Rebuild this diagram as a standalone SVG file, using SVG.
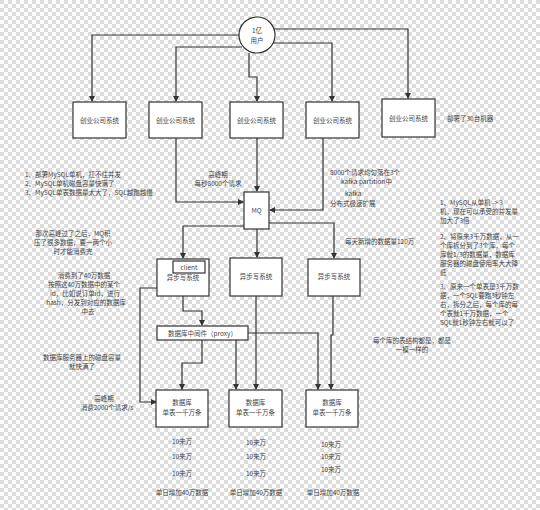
<svg xmlns="http://www.w3.org/2000/svg" width="540" height="510" viewBox="0 0 540 510">
<defs>
<pattern id="chk" width="8" height="8" patternUnits="userSpaceOnUse">
<rect width="8" height="8" fill="#ffffff"/>
<rect width="4" height="4" fill="#dcdcdc"/>
<rect x="4" y="4" width="4" height="4" fill="#dcdcdc"/>
</pattern>
<marker id="ar" markerWidth="6" markerHeight="6" refX="5" refY="3" orient="auto" markerUnits="userSpaceOnUse">
<path d="M0,0 L6,3 L0,6 Z" fill="#333"/>
</marker>
<style>
.bx{fill:#fff;stroke:#333;stroke-width:1.2}
.ln{fill:none;stroke:#333;stroke-width:1.2}
.ar{marker-end:url(#ar)}
text{font-family:"Noto Sans CJK SC","Noto Sans",sans-serif;font-size:6.5px;fill:#444}
.c{text-anchor:middle}
</style>
</defs>
<rect width="540" height="510" fill="url(#chk)"/>

<g id="connectors">
<path class="ln ar" d="M240,35 H92 V101"/>
<path class="ln ar" d="M242,47 H176 V101"/>
<path class="ln ar" d="M249,53 V77 H257 V101"/>
<path class="ln ar" d="M273,43 H332 V101"/>
<path class="ln ar" d="M274,29 H408 V98"/>
<path class="ln ar" d="M176,138 V202 H243"/>
<path class="ln ar" d="M257,138 V191"/>
<path class="ln ar" d="M323,138 V210 H270"/>
<path class="ln ar" d="M244,226 H183 V258"/>
<path class="ln ar" d="M257,229 V257"/>
<path class="ln ar" d="M269,223 H334 V258"/>
<path class="ln ar" d="M183,296 V311 H202 V325"/>
<path class="ln ar" d="M188,273 V288 H140 V402 H156"/>
<path class="ln ar" d="M202,340 V363 H182 V389"/>
<path class="ln ar" d="M236,340 V389"/>
<path class="ln ar" d="M256,296 V389"/>
<path class="ln ar" d="M248,333 H318 V389"/>
<path class="ln ar" d="M333,296 V335 H331 V389"/>
</g>

<g id="user">
<circle cx="257" cy="35" r="18" fill="#fff" stroke="#333" stroke-width="1.2"/>
<text class="c" x="257" y="33">1亿</text>
<text class="c" x="257" y="43">用户</text>
</g>

<g id="sys1"><rect class="bx" x="73" y="102" width="53" height="36"/><text class="c" x="99.5" y="122.5">创业公司系统</text></g>
<g id="sys2"><rect class="bx" x="149" y="102" width="53" height="36"/><text class="c" x="175.5" y="122.5">创业公司系统</text></g>
<g id="sys3"><rect class="bx" x="230" y="102" width="53" height="36"/><text class="c" x="256.5" y="122.5">创业公司系统</text></g>
<g id="sys4"><rect class="bx" x="306" y="102" width="53" height="36"/><text class="c" x="332.5" y="122.5">创业公司系统</text></g>
<g id="sys5"><rect class="bx" x="382" y="99" width="53" height="38"/><text class="c" x="408.5" y="120.5">创业公司系统</text></g>
<text x="447" y="121">部署了30台机器</text>

<g id="mq"><rect class="bx" x="244" y="192" width="25" height="37"/><text class="c" x="256.5" y="213">MQ</text></g>

<g id="async1"><rect class="bx" x="157" y="259" width="52" height="37"/><text class="c" x="183" y="280">异步写系统</text></g>
<g id="client"><rect class="bx" x="173" y="261" width="32" height="12"/><text class="c" x="189" y="270">client</text></g>
<g id="async2"><rect class="bx" x="230" y="258" width="52" height="38"/><text class="c" x="256" y="279">异步写系统</text></g>
<g id="async3"><rect class="bx" x="308" y="259" width="52" height="37"/><text class="c" x="334" y="279">异步写系统</text></g>

<g id="proxy"><rect class="bx" x="157" y="326" width="91" height="14"/><text class="c" x="202.5" y="336">数据库中间件（proxy）</text></g>

<g id="db1"><rect class="bx" x="156" y="390" width="52" height="37"/><text class="c" x="182" y="405">数据库</text><text class="c" x="182" y="415">单表一千万条</text></g>
<g id="db2"><rect class="bx" x="229" y="390" width="53" height="37"/><text class="c" x="255.5" y="405">数据库</text><text class="c" x="255.5" y="415">单表一千万条</text></g>
<g id="db3"><rect class="bx" x="306" y="390" width="52" height="37"/><text class="c" x="332" y="405">数据库</text><text class="c" x="332" y="415">单表一千万条</text></g>

<g id="notes">
<text x="25" y="177">1、部署MySQL单机，扛不住并发</text>
<text x="25" y="186">2、MySQL单机磁盘容量快满了</text>
<text x="25" y="195">3、MySQL单表数据量太大了，SQL越跑越慢</text>

<text class="c" x="218" y="177">高峰期</text>
<text class="c" x="218" y="186">每秒8000个请求</text>

<text x="330" y="175">8000个请求均匀落在3个</text>
<text x="341" y="184">kafka partition中</text>
<text x="345" y="196">kafka</text>
<text x="330" y="206">分布式极速扩展</text>

<text class="c" x="73" y="236">那次高峰过了之后，MQ积</text>
<text class="c" x="73" y="245">压了很多数据，要一两个小</text>
<text class="c" x="73" y="254">时才能消费完</text>

<text x="345" y="244">每天新增的数据量120万</text>

<text class="c" x="84" y="278">消费到了40万数据</text>
<text class="c" x="84" y="287">按照这40万数据中的某个</text>
<text class="c" x="85" y="296">id，比如说订单id，进行</text>
<text class="c" x="86" y="305">hash，分发到对应的数据库</text>
<text class="c" x="88" y="314">中去</text>

<text class="c" x="82" y="360">数据库服务器上的磁盘容量</text>
<text class="c" x="82" y="369">就快满了</text>

<text class="c" x="104" y="401">高峰期</text>
<text class="c" x="107" y="410">消费2000个请求/s</text>

<text x="440" y="205">1、MySQL从单机 -&gt; 3</text>
<text x="440" y="214">机，现在可以承受的并发量</text>
<text x="440" y="223">加大了3倍</text>
<text x="440" y="239">2、将原来3千万数据，从一</text>
<text x="440" y="248">个库拆分到了3个库，每个</text>
<text x="440" y="257">库就1/3的数据量，数据库</text>
<text x="440" y="266">服务器的磁盘使用率大大降</text>
<text x="440" y="275">低</text>
<text x="440" y="289">3、原来一个单表是3千万数</text>
<text x="440" y="298">据，一个SQL要跑3秒钟左</text>
<text x="440" y="307">右，拆分之后，每个库的每</text>
<text x="440" y="316">个表就1千万数据，一个</text>
<text x="440" y="325">SQL就1秒钟左右就可以了</text>

<text class="c" x="412" y="343">每个库的表结构都是，都是</text>
<text class="c" x="412" y="352">一模一样的</text>

<text class="c" x="182" y="444">10来万</text>
<text class="c" x="182" y="459">10来万</text>
<text class="c" x="182" y="476">10来万</text>
<text class="c" x="256" y="445">10来万</text>
<text class="c" x="256" y="459">10来万</text>
<text class="c" x="256" y="476">10来万</text>
<text class="c" x="331" y="447">10来万</text>
<text class="c" x="331" y="459">10来万</text>
<text class="c" x="331" y="472">10来万</text>

<text class="c" x="182" y="495">单日增加40万数据</text>
<text class="c" x="256" y="495">单日增加40万数据</text>
<text class="c" x="333" y="495">单日增加40万数据</text>
</g>
</svg>
